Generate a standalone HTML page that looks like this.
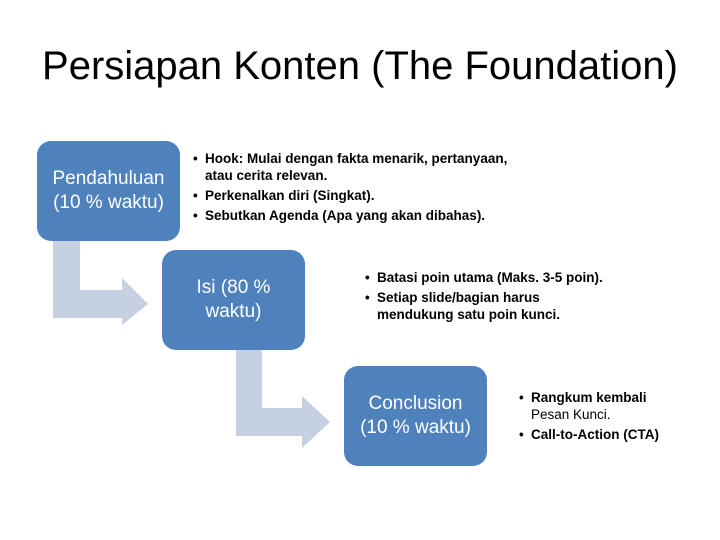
<!DOCTYPE html>
<html><head><meta charset="utf-8"><style>
body{margin:0;width:720px;height:540px;background:#fff;position:relative;overflow:hidden;font-family:"Liberation Sans",sans-serif}
.t{position:absolute;left:0;width:720px;top:44px;text-align:center;font-size:40px;color:#000}
.b{position:absolute;background:#4f81bd;border-radius:14px;color:#fff;font-size:19px;display:flex;align-items:center;justify-content:center;text-align:center;line-height:24px;width:143px;height:100px}
.l{position:absolute;font-size:13.5px;font-weight:bold;color:#000;line-height:17px}
.l div{position:relative;padding-left:12px;margin-bottom:3px}
.l div:before{content:"•";position:absolute;left:0}
</style></head><body>
<div class="t">Persiapan Konten (The Foundation)</div>
<svg width="720" height="540" style="position:absolute;left:0;top:0">
<polygon points="53,241 80,241 80,290 122,290 122,278 148,304 122,325 122,318 53,318" fill="#c5d0e3"/>
<polygon points="236,350 262,350 262,408 302,408 302,396 330,422 302,448 302,436 236,436" fill="#c5d0e3"/>
</svg>
<div class="b" style="left:37px;top:141px">Pendahuluan<br>(10 % waktu)</div>
<div class="b" style="left:162px;top:250px">Isi (80 %<br>waktu)</div>
<div class="b" style="left:344px;top:366px">Conclusion<br>(10 % waktu)</div>
<div class="l" style="left:193px;top:150px">
<div>Hook: Mulai dengan fakta menarik, pertanyaan,<br>atau cerita relevan.</div>
<div>Perkenalkan diri (Singkat).</div>
<div>Sebutkan Agenda (Apa yang akan dibahas).</div></div>
<div class="l" style="left:365px;top:269px">
<div>Batasi poin utama (Maks. 3-5 poin).</div>
<div>Setiap slide/bagian harus<br>mendukung satu poin kunci.</div></div>
<div class="l" style="left:519px;top:389px">
<div>Rangkum kembali<br><span style="font-weight:normal">Pesan Kunci.</span></div>
<div>Call-to-Action (CTA)</div></div>
</body></html>
